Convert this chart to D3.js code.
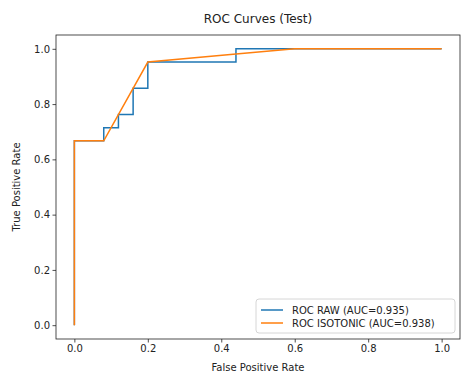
<!DOCTYPE html>
<html><head><meta charset="utf-8">
<script src="https://cdn.jsdelivr.net/npm/d3@7"></script>
<style>body{margin:0;background:#fff}svg{display:block}text{font-family:"DejaVu Sans",sans-serif;fill:#222}</style>
</head><body><svg id="c" width="464" height="376"></svg>
<script>
const title = "ROC Curves (Test)";
const xLabel = "False Positive Rate";
const yLabel = "True Positive Rate";
const ticks = [0, 0.2, 0.4, 0.6, 0.8, 1.0];
const rawFPR = [0, 0, 0.08, 0.08, 0.12, 0.12, 0.16, 0.16, 0.2, 0.2, 0.44, 0.44, 1.0];
const rawTPR = [0, 0.667, 0.667, 0.714, 0.714, 0.762, 0.762, 0.857, 0.857, 0.952, 0.952, 1.0, 1.0];
const isoFPR = [0, 0, 0.08, 0.2, 0.44, 0.6, 1.0];
const isoTPR = [0, 0.667, 0.667, 0.952, 0.981, 1.0, 1.0];
const seriesNames = ["ROC RAW (AUC=0.935)", "ROC ISOTONIC (AUC=0.938)"];
const colors = ["#1f77b4", "#ff7f0e"];

const svg = d3.select("#c");
const L = 56, R = 460, T = 35, B = 339;
const x = d3.scaleLinear().domain([-0.05, 1.05]).range([L, R]);
const y = d3.scaleLinear().domain([-0.05, 1.05]).range([B, T]);

const series = [rawFPR.map((v,i)=>[v, rawTPR[i]]), isoFPR.map((v,i)=>[v, isoTPR[i]])];
const line = d3.line().x(d=>x(d[0])).y(d=>y(d[1]));
series.forEach((s,i)=>{
  svg.append("path").attr("d", line(s)).attr("fill","none").attr("stroke",colors[i]).attr("stroke-width",1.5);
});

const xa = svg.append("g").attr("transform",`translate(0,${B})`).call(d3.axisBottom(x).tickValues(ticks).tickFormat(d3.format(".1f")).tickSize(3.5).tickSizeOuter(0));
const ya = svg.append("g").attr("transform",`translate(${L},0)`).call(d3.axisLeft(y).tickValues(ticks).tickFormat(d3.format(".1f")).tickSize(3.5).tickSizeOuter(0));
[xa, ya].forEach(a=>{
  a.select(".domain").remove();
  a.selectAll("line").attr("stroke","#222").attr("stroke-width",0.8);
  a.selectAll("text").attr("font-size",10).style("fill","#222");
});
xa.selectAll("text").attr("dy","0.71em").attr("y",6);
ya.selectAll("text").attr("x",-6);

svg.append("rect").attr("x",L).attr("y",T).attr("width",R-L).attr("height",B-T)
  .attr("fill","none").attr("stroke","#222").attr("stroke-width",0.8);

svg.append("text").attr("x",(L+R)/2).attr("y",23).attr("text-anchor","middle").attr("font-size",12).text(title);
svg.append("text").attr("x",(L+R)/2).attr("y",371).attr("text-anchor","middle").attr("font-size",10).text(xLabel);
svg.append("text").attr("transform",`translate(20,${(T+B)/2}) rotate(-90)`).attr("text-anchor","middle").attr("font-size",10).text(yLabel);

// legend
const lg = svg.append("g");
lg.append("rect").attr("x",256).attr("y",299).attr("width",199).attr("height",34).attr("rx",3)
  .attr("fill","#fff").attr("fill-opacity",0.8).attr("stroke","#ccc").attr("stroke-width",0.8);
seriesNames.forEach((n,i)=>{
  const yy = 310 + i*13;
  lg.append("line").attr("x1",261).attr("x2",283).attr("y1",yy).attr("y2",yy).attr("stroke",colors[i]).attr("stroke-width",1.5);
  lg.append("text").attr("x",292).attr("y",yy).attr("dy","0.35em").attr("font-size",10).text(n);
});
</script></body></html>
